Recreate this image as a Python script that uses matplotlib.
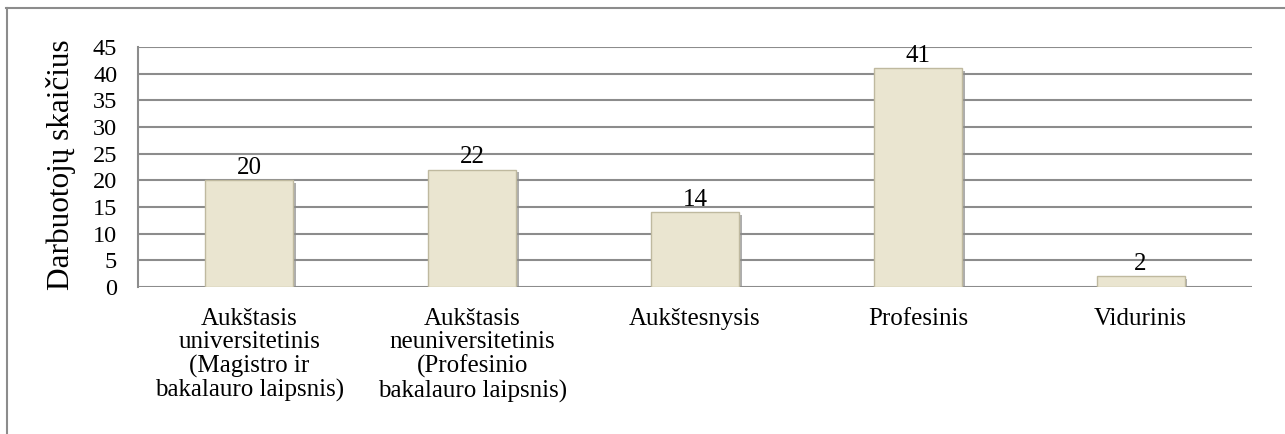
import matplotlib.pyplot as plt
import matplotlib.patheffects as pe
from matplotlib.lines import Line2D

plt.rcParams['font.family'] = ['Liberation Serif', 'DejaVu Serif']

# data
categories = [
    'Aukštasis\nuniversitetinis\n(Magistro ir\nbakalauro laipsnis)',
    'Aukštasis\nneuniversitetinis\n(Profesinio\nbakalauro laipsnis)',
    'Aukštesnysis',
    'Profesinis',
    'Vidurinis',
]
counts = [20, 22, 14, 41, 2]
yticks = list(range(0, 50, 5))

fig = plt.figure(figsize=(12.85, 4.34), dpi=100)
ax = fig.add_axes([0.1074, 0.3387, 0.8669, 0.553])

# outer frame (only top and left visible in the reference)
fig.add_artist(Line2D([6 / 1285, 1.0], [1 - 8 / 434, 1 - 8 / 434], transform=fig.transFigure,
                      color='#8c8c8c', lw=1.5))
fig.add_artist(Line2D([7 / 1285, 7 / 1285], [0, 1 - 8 / 434], transform=fig.transFigure,
                      color='#8c8c8c', lw=1.5))

x = range(len(categories))
bars = ax.bar(x, counts, width=0.395, color='#EAE5D0', edgecolor='#BFB99F', linewidth=1.0, zorder=3)
for b in bars:
    b.set_path_effects([pe.SimplePatchShadow(offset=(2, -2), shadow_rgbFace='#8a8a8a', alpha=0.7),
                        pe.Normal()])

for xi, v in zip(x, counts):
    ax.text(xi, v + 0.3, str(v), ha='center', va='bottom', fontsize=18, zorder=4)

ax.set_xlim(-0.5, len(categories) - 0.5)
ax.set_ylim(0, 45)
ax.set_yticks(yticks)
ax.set_yticklabels([str(t) for t in yticks], fontsize=17.5)
ax.set_xticks(list(x))
ax.set_xticklabels(categories, fontsize=18, linespacing=1.08)
ax.tick_params(axis='y', length=0, pad=15)
ax.tick_params(axis='x', length=0, pad=15)

ax.yaxis.grid(True, color='#8c8c8c', lw=1.5, zorder=0)
ax.set_axisbelow(True)
for s in ['top', 'right', 'bottom']:
    ax.spines[s].set_visible(False)
ax.spines['left'].set_color('#8c8c8c')
ax.spines['left'].set_linewidth(1.5)

ax.set_ylabel('Darbuotojų skaičius', fontsize=22.5)
ax.yaxis.set_label_coords(-0.056, 0.51)

plt.savefig('out.png', dpi=100)
